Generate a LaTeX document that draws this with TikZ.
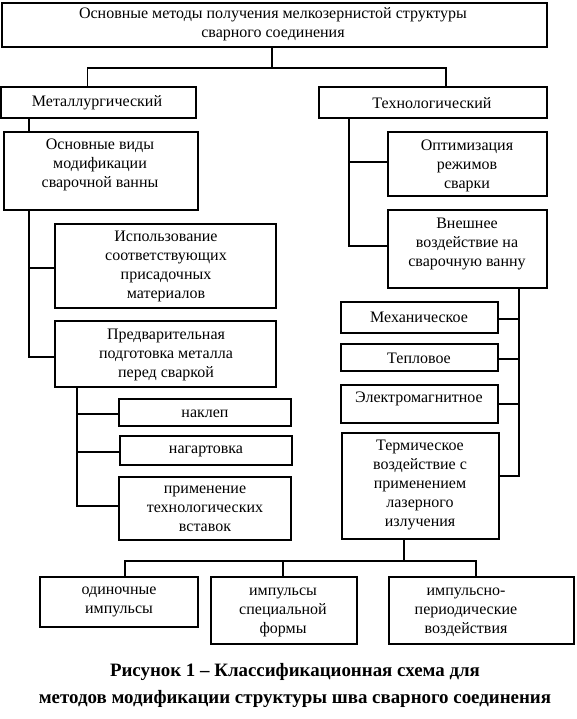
\documentclass[tikz,border=0pt]{standalone}
\usepackage{fontspec}
\setmainfont{Liberation Serif}
% #1 name, #2 x1, #3 y1, #4 x2, #5 y2, #6 text x, #7 text y, #8 text
\newcommand{\mybox}[8]{%
  \node[boxst, minimum width={#4-#2}, minimum height={#5-#3}] (#1) at ({(#2+#4)/2},{-(#3+#5)/2}) {};
  \node[txt] (#1t) at (#6,-#7) {#8};}
\begin{document}
\begin{tikzpicture}[x=1pt,y=1pt,
  boxst/.style={draw, line width=1.1pt, inner sep=0pt, rectangle},
  txt/.style={align=center, inner sep=0pt, font=\fontsize{16}{19}\selectfont},
  conn/.style={line width=1.1pt}]
\useasboundingbox (0,0) rectangle (576,-719);

\mybox{top}{2}{3}{547}{47}{273}{24}{Основные методы получения мелкозернистой структуры\\сварного соединения}
\mybox{met}{1}{87}{196}{118}{97}{103}{Металлургический}
\mybox{tech}{319}{87}{547}{118}{432}{103}{Технологический}
\mybox{osn}{4}{132}{198}{210}{100}{165}{Основные виды\\модификации\\сварочной ванны}
\mybox{isp}{55}{224}{276}{308}{166}{266.5}{Использование\\соответствующих\\присадочных\\материалов}
\mybox{pred}{55}{321}{276}{387}{166}{355}{Предварительная\\подготовка металла\\перед сваркой}
\mybox{nak}{119}{399}{291}{426}{205}{414}{наклеп}
\mybox{nag}{120}{436}{292}{465}{206}{451}{нагартовка}
\mybox{prim}{119}{477}{291}{540}{205}{509}{применение\\технологических\\вставок}
\mybox{opt}{388}{132}{547}{196}{467}{166}{Оптимизация\\режимов\\сварки}
\mybox{vne}{388}{210}{547}{288}{467}{244}{Внешнее\\воздействие на\\сварочную ванну}
\mybox{mex}{341}{302}{498}{333}{419}{317}{Механическое}
\mybox{tep}{341}{344}{498}{371}{419}{358}{Тепловое}
\mybox{ele}{341}{385}{498}{423}{419}{399}{Электромагнитное}
\mybox{term}{342}{433}{499}{539}{420}{485}{Термическое\\воздействие с\\применением\\лазерного\\излучения}
\mybox{odi}{40}{577}{198}{627}{119}{602}{одиночные\\импульсы}
\mybox{spe}{211}{577}{357}{644}{283}{612}{импульсы\\специальной\\формы}
\mybox{per}{389}{577}{574}{644}{466}{612}{импульсно-\\периодические\\воздействия}

\node[align=center, inner sep=0pt, font=\fontsize{18.9}{27}\selectfont\bfseries] (cap) at (295,-685)
  {Рисунок 1 – Классификационная схема для\\методов модификации структуры шва сварного соединения};

% top level
\coordinate (cA) at (272,-68);
\coordinate (cL) at (87.5,-68);
\coordinate (cR) at (446,-68);
\draw[conn] (top.south -| cA) -- (cA);
\draw[conn] (met.north -| cL) -- (cL) -- (cR) -- (tech.north -| cR);

% left branch
\coordinate (xl1) at (29,0);
\coordinate (yp) at (0,-357);
\coordinate (yi) at (0,-268);
\draw[conn] (met.south -| xl1) -- (osn.north -| xl1);
\draw[conn] (osn.south -| xl1) -- (xl1 |- yp) -- (pred.west |- yp);
\draw[conn] (xl1 |- yi) -- (isp.west |- yi);

\coordinate (xl2) at (77,0);
\coordinate (ypr) at (0,-506);
\coordinate (ynk) at (0,-414);
\coordinate (yng) at (0,-452);
\draw[conn] (pred.south -| xl2) -- (xl2 |- ypr) -- (prim.west |- ypr);
\draw[conn] (xl2 |- ynk) -- (nak.west |- ynk);
\draw[conn] (xl2 |- yng) -- (nag.west |- yng);

% right branch
\coordinate (xr1) at (349,0);
\coordinate (yv) at (0,-246);
\coordinate (yo) at (0,-162);
\draw[conn] (tech.south -| xr1) -- (xr1 |- yv) -- (vne.west |- yv);
\draw[conn] (xr1 |- yo) -- (opt.west |- yo);

\coordinate (xr2) at (519,0);
\coordinate (ym) at (0,-319);
\coordinate (yt) at (0,-359);
\coordinate (ye) at (0,-404);
\coordinate (yth) at (0,-476);
\draw[conn] (vne.south -| xr2) -- (xr2 |- yth) -- (term.east |- yth);
\draw[conn] (xr2 |- ym) -- (mex.east |- ym);
\draw[conn] (xr2 |- yt) -- (tep.east |- yt);
\draw[conn] (xr2 |- ye) -- (ele.east |- ye);

% bottom bus
\coordinate (xb) at (404,0);
\coordinate (b1) at (125,-561);
\coordinate (b2) at (283,-561);
\coordinate (b3) at (476,-561);
\draw[conn] (term.south -| xb) -- (xb |- b1);
\draw[conn] (odi.north -| b1) -- (b1) -- (b3) -- (per.north -| b3);
\draw[conn] (b2) -- (spe.north -| b2);
\end{tikzpicture}
\end{document}
